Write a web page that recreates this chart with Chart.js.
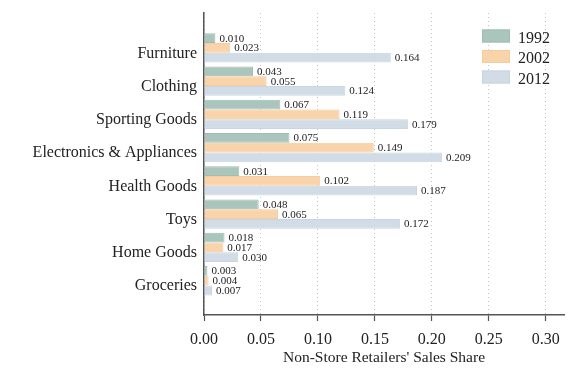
<!DOCTYPE html>
<html>
<head>
<meta charset="utf-8">
<script src="https://cdn.jsdelivr.net/npm/chart.js@4/dist/chart.umd.min.js"></script>
<style>
html,body{margin:0;padding:0;background:#fff;}
#wrap{width:578px;height:389px;position:relative;}
</style>
</head>
<body>
<div id="wrap"><canvas id="c" width="578" height="389"></canvas></div>
<script>
const categories = ["Furniture", "Clothing", "Sporting Goods", "Electronics & Appliances", "Health Goods", "Toys", "Home Goods", "Groceries"];
const seriesNames = ["1992", "2002", "2012"];
const values1992 = [0.010, 0.043, 0.067, 0.075, 0.031, 0.048, 0.018, 0.003];
const values2002 = [0.023, 0.055, 0.119, 0.149, 0.102, 0.065, 0.017, 0.004];
const values2012 = [0.164, 0.124, 0.179, 0.209, 0.187, 0.172, 0.030, 0.007];
const xTicks = [0.00, 0.05, 0.10, 0.15, 0.20, 0.25, 0.30];

const SERIF = "'Liberation Serif', 'DejaVu Serif', serif";
const fills = ["#a9c5bc", "#f9d3aa", "#d1dce6"];
const edges = ["#9fbdb3", "#f5cba0", "#c9d5e0"];

const allSeries = [values1992, values2002, values2012];
const datasets = allSeries.map((vals, s) => ({
  label: seriesNames[s],
  data: vals.map((v, i) => ({ x: v, y: i })),
  backgroundColor: fills[s],
  borderColor: edges[s],
  borderWidth: 1,
  categoryPercentage: 0.88,
  barPercentage: 1.0
}));

const valueLabels = {
  id: 'valueLabels',
  afterDatasetsDraw(chart) {
    const ctx = chart.ctx;
    ctx.save();
    ctx.font = "11px " + SERIF;
    ctx.fillStyle = "#222";
    ctx.textAlign = "left";
    ctx.textBaseline = "middle";
    chart.data.datasets.forEach((ds, di) => {
      const meta = chart.getDatasetMeta(di);
      meta.data.forEach((bar, i) => {
        const v = ds.data[i].x;
        ctx.fillText(v.toFixed(3), bar.x + 4, bar.y + 0.5);
      });
    });
    ctx.restore();
  }
};

const boxLegend = {
  id: 'boxLegend',
  afterDraw(chart) {
    const ctx = chart.ctx;
    ctx.save();
    ctx.font = "16px " + SERIF;
    ctx.textAlign = "left";
    ctx.textBaseline = "middle";
    chart.data.datasets.forEach((ds, di) => {
      const cy = 36 + di * 20.5;
      ctx.fillStyle = ds.backgroundColor;
      ctx.fillRect(482, cy - 6.5, 28, 13);
      ctx.strokeStyle = ds.borderColor;
      ctx.lineWidth = 1;
      ctx.strokeRect(482.5, cy - 6, 27, 12);
      ctx.fillStyle = "#222";
      ctx.fillText(ds.label, 518, cy + 2.5);
    });
    ctx.restore();
  }
};

new Chart(document.getElementById('c'), {
  type: 'bar',
  data: { datasets },
  options: {
    indexAxis: 'y',
    responsive: false,
    animation: false,
    layout: { padding: { top: 13, right: 14, left: 0, bottom: 22 } },
    plugins: { legend: { display: false }, tooltip: { enabled: false } },
    scales: {
      x: {
        type: 'linear',
        min: 0,
        max: 0.316,
        offset: false,
        afterBuildTicks: (axis) => { axis.ticks = xTicks.map(v => ({ value: v })); },
        afterFit: (axis) => { axis.height = 52; axis.paddingRight = 0; },
        ticks: {
          font: { family: SERIF, size: 16 },
          color: "#222",
          padding: 9,
          maxRotation: 0,
          callback: (v) => Number(v).toFixed(2)
        },
        grid: {
          color: "#c4c4c4",
          lineWidth: 1,
          tickColor: "#555",
          tickBorderDash: [],
          tickLength: 6,
          tickWidth: 1.2
        },
        border: { display: true, color: "#555", width: 1.5, dash: [1, 3] },
        title: {
          display: true,
          text: "Non-Store Retailers' Sales Share",
          font: { family: SERIF, size: 15.5 },
          color: "#222",
          padding: { top: 0, bottom: 0 }
        }
      },
      y: {
        type: 'linear',
        reverse: true,
        offset: false,
        min: -1.05,
        max: 8.03,
        afterBuildTicks: (axis) => { axis.ticks = categories.map((_, i) => ({ value: i })); },
        afterFit: (axis) => { axis.width = 204; axis.paddingTop = 0; axis.paddingBottom = 0; },
        ticks: {
          font: { family: SERIF, size: 16 },
          color: "#222",
          padding: 7,
          labelOffset: 5.5,
          callback: (v) => categories[v] ?? ''
        },
        grid: { display: false, drawTicks: false },
        border: { display: true, color: "#555", width: 1.5 }
      }
    }
  },
  plugins: [valueLabels, boxLegend]
});
</script>
</body>
</html>
